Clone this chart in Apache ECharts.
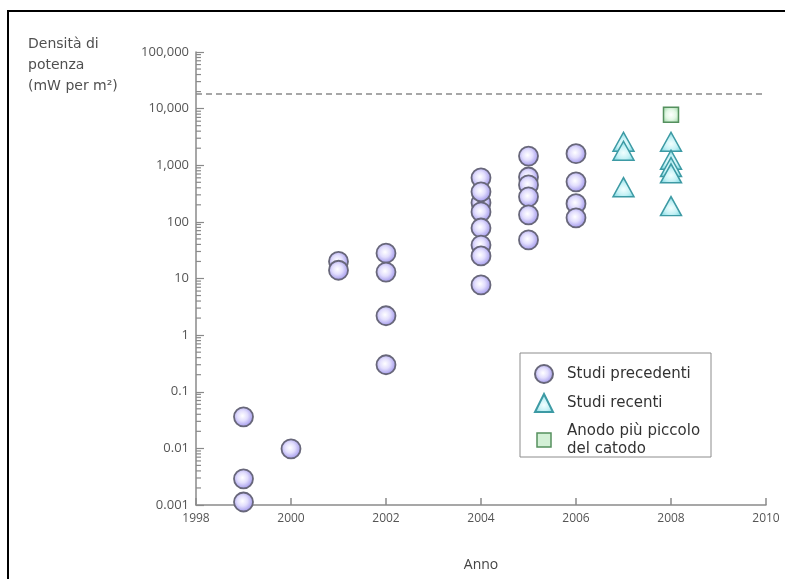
<!DOCTYPE html>
<html>
<head>
<meta charset="utf-8">
<script src="https://cdn.jsdelivr.net/npm/echarts@6/dist/echarts.min.js"></script>
<style>
html,body{margin:0;padding:0;background:#fff;}
#chart{width:785px;height:579px;}
</style>
</head>
<body>
<div id="chart"></div>
<script>
// ---- data ----
const yTickLabels = ['0.001','0.01','0.1','1','10','100','1,000','10,000','100,000'];
const xTickLabels = ['1998','2000','2002','2004','2006','2008','2010'];
const prevX = [1999,1999,1999,2000,2001,2001,2002,2002,2002,2002,
               2004,2004,2004,2004,2004,2004,2004,2004,
               2005,2005,2005,2005,2005,2005,
               2006,2006,2006,2006];
const prevY = [0.036,0.0029,0.00113,0.0098,20,14,28,13,2.2,0.3,
               600,217,150,78,39,25,7.7,340,
               1450,620,450,277,133,48,
               1600,510,210,118];
const recentX = [2007,2007,2007,2008,2008,2008,2008,2008];
const recentY = [2600,1800,410,2600,1250,930,720,190];
const anodeX = [2008];
const anodeY = [7800];
const referenceLevel = 18500;
const seriesNames = ['Studi precedenti','Studi recenti','Anodo più piccolo\ndel catodo'];

function zip(xs, ys){ return xs.map((x,i)=>[x, ys[i]]); }
const minorTickValues = [];
for (let k = -3; k <= 4; k++) for (let m = 2; m <= 9; m++) minorTickValues.push([1998, m*Math.pow(10,k)]);

const chart = echarts.init(document.getElementById('chart'), null, {renderer:'canvas'});
const axisColor = '#8a8a8a';
const labelFont = 'Open Sans, Lato, sans-serif';

const option = {
  animation:false,
  backgroundColor:'#fff',
  grid:{left:196, right:19, top:52, bottom:74, containLabel:false},
  xAxis:{
    type:'value', min:1998, max:2010, interval:2,
    axisLine:{lineStyle:{color:axisColor, width:1.5}},
    axisTick:{inside:true, length:7, lineStyle:{color:axisColor, width:1.5}},
    axisLabel:{color:'#555', fontSize:12, fontFamily:labelFont, margin:8,
      formatter:(v)=>{ const i=Math.round((v-1998)/2); return xTickLabels[i] || ''; }},
    splitLine:{show:false},
    name:'Anno', nameLocation:'middle', nameGap:53,
    nameTextStyle:{color:'#444', fontSize:14, fontFamily:labelFont}
  },
  yAxis:{
    type:'log', logBase:10, min:0.001, max:100000,
    axisLine:{show:true, lineStyle:{color:axisColor, width:1.5}},
    axisTick:{show:true, inside:true, length:8, lineStyle:{color:axisColor, width:1.2}},
    axisLabel:{color:'#555', fontSize:13, fontFamily:labelFont, margin:7,
      formatter:(v)=>{ const i=Math.round(Math.log10(v))+3; return yTickLabels[i] || ''; }},
    splitLine:{show:false}
  },
  legend:{
    orient:'vertical', left:534, top:364, padding:0,
    itemWidth:18, itemHeight:18, itemGap:9,
    data:[
      {name:seriesNames[0]},
      {name:seriesNames[1]},
      {name:seriesNames[2], icon:'path://M0,0M18,18M2,2L16,2L16,16L2,16Z', itemStyle:{color:'#d3f0d6', borderColor:'#55905e', borderWidth:1.5}}
    ],
    textStyle:{color:'#333', fontSize:15, lineHeight:18, fontFamily:'DejaVu Sans, sans-serif', padding:[0,0,0,9]}
  },
  graphic:[
    {type:'rect', shape:{x:520, y:353, width:191, height:104}, style:{fill:'none', stroke:'#8c8c8c', lineWidth:1}, silent:true},
    {type:'rect', shape:{x:7, y:10, width:778, height:2}, style:{fill:'#000'}, silent:true},
    {type:'rect', shape:{x:7, y:10, width:2, height:569}, style:{fill:'#000'}, silent:true},
    {type:'text', left:28, top:34, style:{text:'Densità di\npotenza\n(mW per m²)', fill:'#505050', font:'14px DejaVu Sans, sans-serif', lineHeight:21}}
  ],
  series:[
    {
      type:'custom', name:'minorTicks', silent:true, z:1,
      renderItem:(params, api)=>{
        const p = api.coord([api.value(0), api.value(1)]);
        return {type:'line', shape:{x1:p[0], y1:p[1], x2:p[0]+5, y2:p[1]}, style:{stroke:axisColor, lineWidth:1.2}};
      },
      encode:{x:0, y:1},
      data:minorTickValues
    },
    {
      type:'scatter', name:seriesNames[0], symbol:'circle', symbolSize:19, z:3,
      itemStyle:{
        color:{type:'radial', x:0.45, y:0.45, r:0.55, colorStops:[{offset:0,color:'#ffffff'},{offset:0.45,color:'#e2defd'},{offset:1,color:'#9c92ea'}]},
        borderColor:'#68677a', borderWidth:1.8, opacity:1
      },
      data:zip(prevX, prevY),
      markLine:{
        silent:true, symbol:'none', label:{show:false},
        lineStyle:{color:'#8a8a8a', type:[6,4], width:1.5},
        data:[{yAxis:referenceLevel}]
      }
    },
    {
      type:'scatter', name:seriesNames[1], symbol:'triangle', symbolSize:[21,19], z:4,
      itemStyle:{
        color:{type:'radial', x:0.5, y:0.6, r:0.6, colorStops:[{offset:0,color:'#f2ffff'},{offset:0.5,color:'#c4f1f5'},{offset:1,color:'#6cd2dc'}]},
        borderColor:'#3d9aa4', borderWidth:1.5, opacity:1
      },
      data:zip(recentX, recentY)
    },
    {
      type:'scatter', name:seriesNames[2], symbol:'rect', symbolSize:15, z:4,
      itemStyle:{
        color:{type:'radial', x:0.5, y:0.5, r:0.6, colorStops:[{offset:0,color:'#ffffff'},{offset:0.5,color:'#e4f8e6'},{offset:1,color:'#a3d9ab'}]},
        borderColor:'#55905e', borderWidth:1.5, opacity:1
      },
      data:zip(anodeX, anodeY)
    }
  ]
};
chart.setOption(option);
</script>
</body>
</html>
